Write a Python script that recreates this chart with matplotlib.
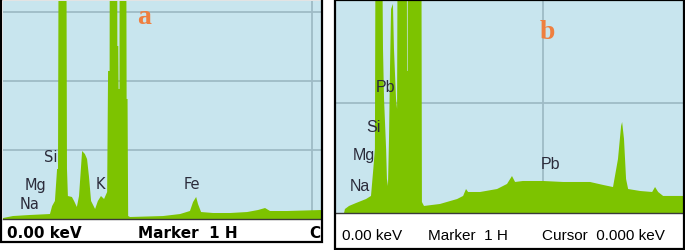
import matplotlib
matplotlib.use('Agg')
import matplotlib.pyplot as plt
from matplotlib.patches import Rectangle
from matplotlib.transforms import Bbox, TransformedBbox

# ---------------- data ----------------
# Spectrum (a): energy (keV) and counts
a_kev = [0.00, 0.32, 0.87, 1.52, 1.59, 1.68, 1.75, 1.78, 1.81, 2.04,
         2.07, 2.10, 2.23, 2.30, 2.39, 2.46, 2.52, 2.56, 2.65, 2.72,
         2.78, 2.85, 2.98, 3.07, 3.17, 3.27, 3.37, 3.40, 3.45, 3.46,
         3.69, 3.70, 3.73, 3.74, 3.77, 3.78, 3.98, 4.00, 4.03, 4.05,
         4.11, 5.18, 5.73, 6.05, 6.15, 6.25, 6.31, 6.41, 6.80, 7.35,
         7.90, 8.25, 8.48, 8.64, 9.19, 10.29]
a_counts = [14, 43, 58, 72, 188, 261, 725, 725, 6000, 6000,
            725, 333, 319, 261, 174, 333, 725, 985, 942, 869,
            623, 261, 145, 261, 333, 290, 391, 2145, 2145, 6000,
            6000, 2507, 2507, 1884, 1884, 6000, 6000, 1739, 1739, 43,
            29, 43, 72, 116, 246, 319, 217, 101, 87, 87,
            101, 130, 159, 116, 116, 130]

# Spectrum (b)
b_kev = [0.00, 0.39, 0.43, 0.63, 0.97, 1.45, 1.69, 1.79, 1.88, 1.93,
         2.17, 2.27, 2.32, 2.42, 2.46, 2.51, 2.56, 2.61, 2.66, 2.75,
         2.80, 2.90, 2.95, 3.00, 3.41, 3.43, 3.46, 3.48, 4.11, 4.15,
         4.25, 5.02, 5.85, 6.14, 6.28, 6.38, 6.96, 7.78, 8.26, 8.50,
         8.65, 9.03, 10.00, 10.97, 12.27, 12.90, 13.38, 13.62, 13.77, 13.82,
         13.91, 14.01, 14.11, 14.69, 15.27, 15.41, 15.56, 15.80, 16.04, 16.81]
b_counts = [0, 0, 36, 64, 91, 127, 155, 373, 582, 4000,
            4000, 1491, 1036, 582, 309, 245, 673, 1336, 1854, 1900,
            1491, 1036, 945, 4000, 4000, 1291, 1291, 4000, 4000, 100,
            64, 82, 127, 155, 218, 191, 191, 218, 264, 336,
            282, 291, 291, 282, 282, 255, 236, 491, 791, 827,
            673, 309, 218, 200, 191, 236, 191, 155, 155, 155]

# Element labels: (text, keV, counts at baseline)
a_labels = ["Na", "Mg", "Si", "K", "Fe"]
a_label_kev = [0.55, 0.71, 1.33, 3.01, 5.83]
a_label_cnt = [159, 435, 840, 449, 449]

b_labels = ["Na", "Mg", "Si", "Pb", "Pb"]
b_label_kev = [0.68, 0.82, 1.45, 1.93, 9.90]
b_label_cnt = [209, 491, 745, 1109, 409]

status_a = ["0.00 keV", "Marker  1 H", "C"]
status_b = ["0.00 keV", "Marker  1 H", "Cursor  0.000 keV"]

# ---------------- style ----------------
W, H = 685, 251
BG = '#C8E5EE'
GREEN = '#7DC300'
GRID = '#9FBBC6'
TXT = '#2B2B3A'
ORANGE = '#EF7F3F'

fig = plt.figure(figsize=(W / 100, H / 100), dpi=100)


def fbox(x0, y0, x1, y1):
    return [x0 / W, 1 - y1 / H, (x1 - x0) / W, (y1 - y0) / H]


axa = fig.add_axes(fbox(3, 2, 321, 220))
axb = fig.add_axes(fbox(336, 2, 683, 214))

for ax, x, y, xmax, ymax, yt in [
        (axa, a_kev, a_counts, 10.29, 3159, [1000, 2000, 3000]),
        (axb, b_kev, b_counts, 16.76, 1927, [1000])]:
    ax.set_facecolor(BG)
    ax.fill_between(x, y, 0, color=GREEN, lw=0, zorder=2)
    ax.set_xlim(0, xmax)
    ax.set_ylim(0, ymax)
    ax.set_xticks([10])
    ax.set_yticks(yt)
    ax.grid(True, color=GRID, lw=1.3, zorder=1)
    ax.set_axisbelow(True)
    ax.tick_params(length=0, labelbottom=False, labelleft=False)
    for s in ax.spines.values():
        s.set_visible(False)
    ax.spines['bottom'].set_visible(True)
    ax.spines['bottom'].set_color('#3a3a3a')
    ax.spines['bottom'].set_linewidth(1.0)
    ax.spines['bottom'].set_zorder(5)

for t, xk, yc in zip(a_labels, a_label_kev, a_label_cnt):
    axa.text(xk, yc, t, ha='left', va='baseline', fontsize=10.5,
             family='DejaVu Sans', color=TXT, zorder=6)
for t, xk, yc in zip(b_labels, b_label_kev, b_label_cnt):
    axb.text(xk, yc, t, ha='left', va='baseline', fontsize=11.5,
             family='Liberation Sans', color=TXT, zorder=6)

axa.text(4.34, 2840, 'a', ha='left', va='baseline', fontsize=20,
         family='Liberation Serif', weight='bold', color=ORANGE, zorder=6)
axb.text(9.86, 1591, 'b', ha='left', va='baseline', fontsize=20,
         family='Liberation Serif', weight='bold', color=ORANGE, zorder=6)

# frames
fig.patches.append(Rectangle((1 / W, 1 - 243 / H), 321 / W, 243 / H,
                             transform=fig.transFigure, fill=False,
                             ec='black', lw=1.6))
fig.patches.append(Rectangle((335 / W, 1 - 250 / H), 349 / W, 249 / H,
                             transform=fig.transFigure, fill=False,
                             ec='black', lw=1.6))

# status strips
clip_a = TransformedBbox(Bbox.from_extents(2 / W, 1 - 242 / H, 321 / W, 1 - 221 / H),
                         fig.transFigure)
for t, px in zip(status_a, [7, 138, 309]):
    tx = fig.text(px / W, 1 - 237.5 / H, t, ha='left', va='baseline',
                  fontsize=11, weight='bold', family='DejaVu Sans', color='black')
    tx.set_clip_box(clip_a)
    tx.set_clip_on(True)

for t, px in zip(status_b, [342, 428, 542]):
    fig.text(px / W, 1 - 240 / H, t, ha='left', va='baseline',
             fontsize=11, family='Liberation Sans', color='black')

fig.savefig('out.png', dpi=100)
